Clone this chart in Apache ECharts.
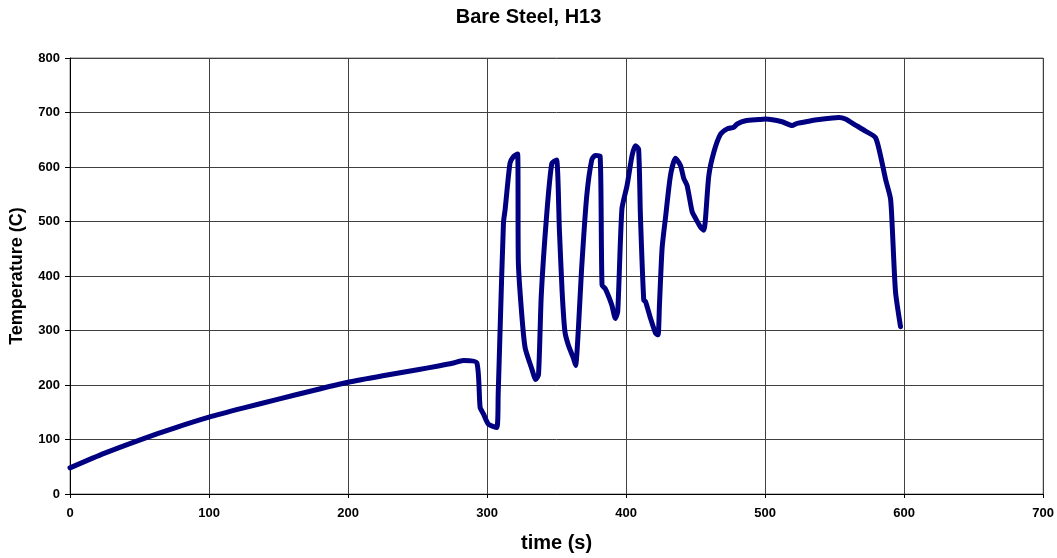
<!DOCTYPE html>
<html>
<head>
<meta charset="utf-8">
<script src="https://cdn.jsdelivr.net/npm/echarts@6/dist/echarts.min.js"></script>
<style>html,body{margin:0;padding:0;background:#fff}#c{width:1057px;height:558px}</style>
</head>
<body>
<div id="c"></div>
<script>
var titleText = 'Bare Steel, H13';
var xAxisName = 'time (s)';
var yAxisName = 'Temperature (C)';
var timeValues = [0,25,50,75,100,125,150,175,200,225,250,265,275,283,292.6,295,297.4,301,307,308,309.4,311.8,313,316.5,319,322,322.5,325,327.4,332,335,337,339,343,346.6,350,352,354,356,358.5,362,363.7,365.7,368,371.7,375.3,377.7,381.3,382.7,385,389.7,392.3,394,397,400.7,404.3,406.7,409,410.3,412.7,414,417.6,421.2,423,424,425.9,428.3,431.9,435.5,439.1,441.5,443.9,447.5,449.9,453.5,455.9,457.1,459.5,463.1,467.9,472.7,477.5,479.9,485.9,495.5,500.2,512.2,519.4,523,531.4,538.6,553,557.8,565,572.2,579.4,583,586.6,590.2,591.4,593.8,597.4];
var tempValues = [48,75,99,121,141,158,174,190,205,217,228,235,240,245,241,159,147,128,122,183,304,498,522,607,619,624,425,328,268,231,210,219,365,516,607,613,486,371,298,273,250,236,304,413,547,613,621,620,383,377,347,322,335,523,566,621,639,633,511,356,353,322,295,292,347,451,506,584,616,603,579,566,518,506,490,484,505,584,627,660,670,673,679,685,687,688,683,676,680,684,687,691,688,677,666,654,621,578,542,493,371,307];
var xTicks = {min:0,max:700,interval:100};
var yTicks = {min:0,max:800,interval:100};

var data = timeValues.map(function(t,i){return [t,tempValues[i]];});
var font = 'Liberation Sans, Arial, sans-serif';
var chart = echarts.init(document.getElementById('c'));
chart.setOption({
  animation:false,
  backgroundColor:'#fff',
  title:{text:titleText,left:'center',top:2,textStyle:{fontFamily:font,fontSize:20,fontWeight:'bold',color:'#000'}},
  grid:{left:70,right:13,top:58,bottom:62,show:true,borderColor:'#808080',borderWidth:1},
  xAxis:{type:'value',min:xTicks.min,max:xTicks.max,interval:xTicks.interval,
    name:xAxisName,nameLocation:'middle',nameGap:39,
    nameTextStyle:{fontFamily:font,fontSize:20,fontWeight:'bold',color:'#000'},
    axisLine:{show:true,lineStyle:{color:'#000',width:1}},
    axisTick:{show:true,inside:false,length:4,lineStyle:{color:'#000'}},
    axisLabel:{margin:13,fontFamily:font,fontSize:13,fontWeight:'bold',color:'#000'},
    splitLine:{show:true,lineStyle:{color:'#404040',width:1}}},
  yAxis:{type:'value',min:yTicks.min,max:yTicks.max,interval:yTicks.interval,
    name:yAxisName,nameLocation:'middle',nameGap:44,
    nameTextStyle:{fontFamily:font,fontSize:18,fontWeight:'bold',color:'#000'},
    axisLine:{show:true,lineStyle:{color:'#000',width:1}},
    axisTick:{show:true,inside:false,length:5,lineStyle:{color:'#000'}},
    axisLabel:{margin:10,fontFamily:font,fontSize:13,fontWeight:'bold',color:'#000'},
    splitLine:{show:true,lineStyle:{color:'#404040',width:1}}},
  series:[{type:'line',data:data,showSymbol:false,symbol:'none',smooth:0.2,
    lineStyle:{color:'#000080',width:5,join:'round',cap:'round'}}]
});
</script>
</body>
</html>
